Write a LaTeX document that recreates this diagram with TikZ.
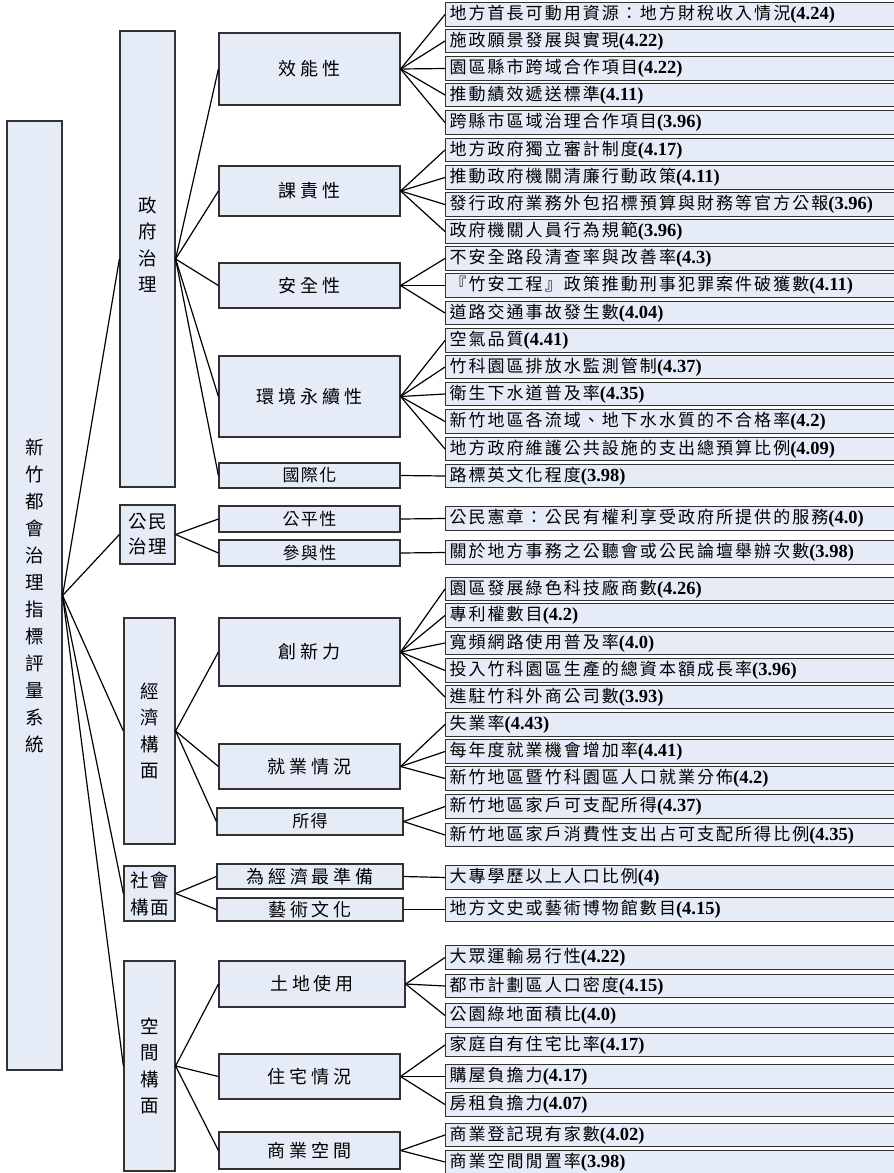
\documentclass[tikz,border=0pt]{standalone}
\usepackage{fontspec}
\setmainfont{Liberation Serif}
\newfontfamily\cjk{Noto Sans CJK TC}
\newfontfamily\cjkleaf{Noto Sans CJK TC}[LetterSpace=12]
\newfontfamily\cjkmid{Noto Sans CJK TC}[LetterSpace=22]
\newfontfamily\cjksmall{Noto Sans CJK TC}[LetterSpace=8]
\newcommand{\val}[1]{{\rmfamily\bfseries\fontsize{18.5pt}{20pt}\selectfont #1}}
\definecolor{boxfill}{RGB}{230,236,247}
\definecolor{boxline}{RGB}{50,50,50}

\begin{document}
\begin{tikzpicture}[x=1pt,y=-1pt,
  box/.style={draw=boxline,fill=boxfill,line width=1.2pt,rectangle,inner sep=0pt},
  top/.style={box,align=center,font={\cjk\fontsize{18.5pt}{27pt}\selectfont}},
  dim/.style={box,align=center,font={\cjk\fontsize{18.5pt}{26.5pt}\selectfont}},
  crit/.style={box,minimum width=181pt,font={\cjkmid\fontsize{18pt}{20pt}\selectfont}},
  critsmall/.style={crit,font={\cjksmall\fontsize{17pt}{20pt}\selectfont}},
  leaf/.style={box,anchor=west,minimum height=23.5pt,text width=470pt,inner xsep=4pt,align=left,font={\cjkleaf\fontsize{17pt}{20pt}\selectfont}},
  link/.style={line width=1.2pt}]
\useasboundingbox (0,0) rectangle (894,1173);
\clip (0,0) rectangle (894,1173);

% root
\node[top,minimum width=55pt,minimum height=949pt] (root) at (34.5,595.5) {新\\竹\\都\\會\\治\\理\\指\\標\\評\\量\\系\\統};

% dimensions
\node[dim,minimum width=55pt,minimum height=456pt,text depth=30pt] (gov) at (147.5,259) {政\\府\\治\\理};
\node[box,minimum width=55pt,minimum height=59pt,align=center,font={\cjksmall\fontsize{18.5pt}{25pt}\selectfont}] (civic) at (147.5,534.5) {公民\\治理};
\node[dim,minimum width=51pt,minimum height=226pt] (econ) at (149.5,731) {經\\濟\\構\\面};
\node[box,minimum width=51pt,minimum height=55pt,align=center,font={\cjksmall\fontsize{18.5pt}{27pt}\selectfont}] (social) at (149.5,893.5) {社會\\構面};
\node[dim,minimum width=51pt,minimum height=210pt] (spatial) at (149.5,1066) {空\\間\\構\\面};

% criteria
\node[crit,minimum height=72pt] (eff) at (309.5,69) {效能性};
\node[crit,minimum height=50pt] (acc) at (309.5,191) {課責性};
\node[crit,minimum height=45pt] (safe) at (309.5,285.5) {安全性};
\node[crit,minimum height=81pt] (env) at (309.5,396.5) {環境永續性};
\node[critsmall,minimum height=25pt] (intl) at (309.5,475.5) {國際化};
\node[critsmall,minimum height=26pt] (fair) at (309.5,519) {公平性};
\node[critsmall,minimum height=26pt] (part) at (309.5,553) {參與性};
\node[crit,minimum height=68pt] (innov) at (309.5,652) {創新力};
\node[crit,minimum height=45pt] (emp) at (309.5,766.5) {就業情況};
\node[critsmall,minimum width=186pt,minimum height=27pt] (income) at (310,821.5) {所得};
\node[crit,minimum width=186pt,minimum height=25pt] (prep) at (310,876.5) {為經濟最準備};
\node[crit,minimum width=186pt,minimum height=23pt] (art) at (310,909.5) {藝術文化};
\node[crit,minimum width=186pt,minimum height=46pt] (land) at (312,984) {土地使用};
\node[crit,minimum height=45pt] (house) at (309.5,1076.5) {住宅情況};
\node[crit,minimum height=37pt] (comm) at (309.5,1150.5) {商業空間};

% indicators
\node[leaf] (eff1) at (445,14.5) {地方首長可動用資源：地方財稅收入情況\val{(4.24)}};
\node[leaf] (eff2) at (445,41) {施政願景發展與實現\val{(4.22)}};
\node[leaf] (eff3) at (445,68.5) {園區縣市跨域合作項目\val{(4.22)}};
\node[leaf] (eff4) at (445,95) {推動績效遞送標準\val{(4.11)}};
\node[leaf] (eff5) at (445,122.5) {跨縣市區域治理合作項目\val{(3.96)}};
\node[leaf] (acc1) at (445,150) {地方政府獨立審計制度\val{(4.17)}};
\node[leaf] (acc2) at (445,177.5) {推動政府機關清廉行動政策\val{(4.11)}};
\node[leaf] (acc3) at (445,204.5) {發行政府業務外包招標預算與財務等官方公報\val{(3.96)}};
\node[leaf] (acc4) at (445,231.5) {政府機關人員行為規範\val{(3.96)}};
\node[leaf] (safe1) at (445,258.5) {不安全路段清查率與改善率\val{(4.3)}};
\node[leaf] (safe2) at (445,285.5) {『竹安工程』政策推動刑事犯罪案件破獲數\val{(4.11)}};
\node[leaf] (safe3) at (445,313) {道路交通事故發生數\val{(4.04)}};
\node[leaf] (env1) at (445,340.5) {空氣品質\val{(4.41)}};
\node[leaf] (env2) at (445,367) {竹科園區排放水監測管制\val{(4.37)}};
\node[leaf] (env3) at (445,394) {衛生下水道普及率\val{(4.35)}};
\node[leaf] (env4) at (445,421.5) {新竹地區各流域、地下水水質的不合格率\val{(4.2)}};
\node[leaf] (env5) at (445,449) {地方政府維護公共設施的支出總預算比例\val{(4.09)}};
\node[leaf] (intl1) at (445,476) {路標英文化程度\val{(3.98)}};
\node[leaf] (fair1) at (445,518.5) {公民憲章：公民有權利享受政府所提供的服務\val{(4.0)}};
\node[leaf] (part1) at (445,552.5) {關於地方事務之公聽會或公民論壇舉辦次數\val{(3.98)}};
\node[leaf] (innov1) at (445,589) {園區發展綠色科技廠商數\val{(4.26)}};
\node[leaf] (innov2) at (445,615.5) {專利權數目\val{(4.2)}};
\node[leaf] (innov3) at (445,643) {寬頻網路使用普及率\val{(4.0)}};
\node[leaf] (innov4) at (445,670.5) {投入竹科園區生產的總資本額成長率\val{(3.96)}};
\node[leaf] (innov5) at (445,697) {進駐竹科外商公司數\val{(3.93)}};
\node[leaf] (emp1) at (445,724.5) {失業率\val{(4.43)}};
\node[leaf] (emp2) at (445,751.5) {每年度就業機會增加率\val{(4.41)}};
\node[leaf] (emp3) at (445,778.5) {新竹地區暨竹科園區人口就業分佈\val{(4.2)}};
\node[leaf] (income1) at (445,806.5) {新竹地區家戶可支配所得\val{(4.37)}};
\node[leaf] (income2) at (445,835) {新竹地區家戶消費性支出占可支配所得比例\val{(4.35)}};
\node[leaf] (prep1) at (445,877.5) {大專學歷以上人口比例\val{(4)}};
\node[leaf] (art1) at (445,909.5) {地方文史或藝術博物館數目\val{(4.15)}};
\node[leaf] (land1) at (445,957.5) {大眾運輸易行性\val{(4.22)}};
\node[leaf] (land2) at (445,986) {都市計劃區人口密度\val{(4.15)}};
\node[leaf] (land3) at (445,1015.5) {公園綠地面積比\val{(4.0)}};
\node[leaf] (house1) at (445,1045) {家庭自有住宅比率\val{(4.17)}};
\node[leaf] (house2) at (445,1076.5) {購屋負擔力\val{(4.17)}};
\node[leaf] (house3) at (445,1104.5) {房租負擔力\val{(4.07)}};
\node[leaf] (comm1) at (445,1135) {商業登記現有家數\val{(4.02)}};
\node[leaf] (comm2) at (445,1162) {商業空間閒置率\val{(3.98)}};

% root -> dimensions
\draw[link] (root.east) -- (gov.west);
\draw[link] (root.east) -- (civic.west);
\draw[link] (root.east) -- (econ.west);
\draw[link] (root.east) -- (social.west);
\draw[link] (root.east) -- (spatial.west);

% dimensions -> criteria
\draw[link] (gov.east) -- (eff.west);
\draw[link] (gov.east) -- (acc.west);
\draw[link] (gov.east) -- (safe.west);
\draw[link] (gov.east) -- (env.west);
\draw[link] (gov.east) -- (intl.west);
\draw[link] (civic.east) -- (fair.west);
\draw[link] (civic.east) -- (part.west);
\draw[link] (econ.east) -- (innov.west);
\draw[link] (econ.east) -- (emp.west);
\draw[link] (econ.east) -- (income.west);
\draw[link] (social.east) -- (prep.west);
\draw[link] (social.east) -- (art.west);
\draw[link] (spatial.east) -- (land.west);
\draw[link] (spatial.east) -- (house.west);
\draw[link] (spatial.east) -- (comm.west);

% criteria -> indicators
\draw[link] (eff.east) -- (eff1.west);
\draw[link] (eff.east) -- (eff2.west);
\draw[link] (eff.east) -- (eff3.west);
\draw[link] (eff.east) -- (eff4.west);
\draw[link] (eff.east) -- (eff5.west);
\draw[link] (acc.east) -- (acc1.west);
\draw[link] (acc.east) -- (acc2.west);
\draw[link] (acc.east) -- (acc3.west);
\draw[link] (acc.east) -- (acc4.west);
\draw[link] (safe.east) -- (safe1.west);
\draw[link] (safe.east) -- (safe2.west);
\draw[link] (safe.east) -- (safe3.west);
\draw[link] (env.east) -- (env1.west);
\draw[link] (env.east) -- (env2.west);
\draw[link] (env.east) -- (env3.west);
\draw[link] (env.east) -- (env4.west);
\draw[link] (env.east) -- (env5.west);
\draw[link] (intl.east) -- (intl1.west);
\draw[link] (fair.east) -- (fair1.west);
\draw[link] (part.east) -- (part1.west);
\draw[link] (innov.east) -- (innov1.west);
\draw[link] (innov.east) -- (innov2.west);
\draw[link] (innov.east) -- (innov3.west);
\draw[link] (innov.east) -- (innov4.west);
\draw[link] (innov.east) -- (innov5.west);
\draw[link] (emp.east) -- (emp1.west);
\draw[link] (emp.east) -- (emp2.west);
\draw[link] (emp.east) -- (emp3.west);
\draw[link] (income.east) -- (income1.west);
\draw[link] (income.east) -- (income2.west);
\draw[link] (prep.east) -- (prep1.west);
\draw[link] (art.east) -- (art1.west);
\draw[link] (land.east) -- (land1.west);
\draw[link] (land.east) -- (land2.west);
\draw[link] (land.east) -- (land3.west);
\draw[link] (house.east) -- (house1.west);
\draw[link] (house.east) -- (house2.west);
\draw[link] (house.east) -- (house3.west);
\draw[link] (comm.east) -- (comm1.west);
\draw[link] (comm.east) -- (comm2.west);
\end{tikzpicture}
\end{document}
